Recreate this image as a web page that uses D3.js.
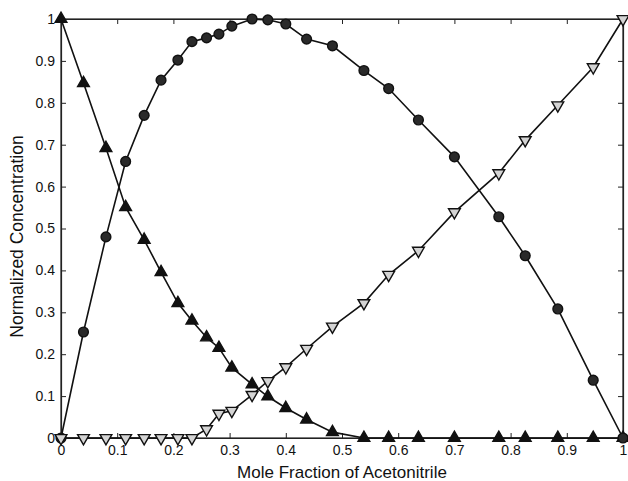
<!DOCTYPE html>
<html>
<head>
<meta charset="utf-8">
<script src="https://cdn.jsdelivr.net/npm/d3@7"></script>
<style>
  body { margin: 0; background: #fff; }
  text { font-family: "Liberation Sans", Arial, sans-serif; fill: #111; }
</style>
</head>
<body>
<svg id="chart"></svg>
<script>
// mole fraction of acetonitrile (shared by all three series)
let moleFraction = [0, 0.04, 0.08, 0.115, 0.148, 0.178, 0.208, 0.233, 0.259, 0.281, 0.304, 0.340,
    0.368, 0.400, 0.437, 0.483, 0.539, 0.583, 0.636, 0.700, 0.779, 0.826, 0.884, 0.947, 1.0];
let speciesA = [1, 0.847, 0.692, 0.551, 0.473, 0.396, 0.322, 0.280, 0.240, 0.215, 0.168, 0.128,
    0.099, 0.0715, 0.044, 0.014, 0, 0, 0, 0, 0, 0, 0, 0, 0];
let speciesB = [0, 0.253, 0.48, 0.66, 0.77, 0.854, 0.902, 0.946, 0.955, 0.964, 0.983, 1.0,
    0.998, 0.988, 0.952, 0.936, 0.877, 0.834, 0.759, 0.671, 0.528, 0.435, 0.308, 0.138, 0];
let speciesC = [0, 0, 0, 0, 0, 0, 0, 0, 0.021, 0.058, 0.065, 0.103,
    0.136, 0.169, 0.213, 0.266, 0.322, 0.3895, 0.447, 0.539, 0.632, 0.711, 0.794, 0.885, 1.0];
let tickValues = [0, 0.1, 0.2, 0.3, 0.4, 0.5, 0.6, 0.7, 0.8, 0.9, 1];

function drawChart() {
    let width = 628, height = 481;
    let margin = {left: 61, right: 5, top: 19, bottom: 43};
    let svg = d3.select("#chart").attr("width", width).attr("height", height);

    let x = d3.scaleLinear().domain([0, 1]).range([margin.left, width - margin.right]);
    let y = d3.scaleLinear().domain([0, 1]).range([height - margin.bottom, margin.top]);
    let fmt = d => d === 0 ? "0" : d === 1 ? "1" : d3.format(".1f")(d);

    // frame
    svg.append("rect")
        .attr("x", x(0)).attr("y", y(1))
        .attr("width", x(1) - x(0)).attr("height", y(0) - y(1))
        .attr("fill", "none").attr("stroke", "#222").attr("stroke-width", 1.2);

    let bottom = svg.append("g").attr("transform", "translate(0," + y(0) + ")")
        .call(d3.axisBottom(x).tickValues(tickValues).tickFormat(fmt).tickSizeInner(-5).tickSizeOuter(0).tickPadding(7));
    let top = svg.append("g").attr("transform", "translate(0," + y(1) + ")")
        .call(d3.axisTop(x).tickValues(tickValues).tickFormat("").tickSizeInner(-5).tickSizeOuter(0));
    let left = svg.append("g").attr("transform", "translate(" + x(0) + ",0)")
        .call(d3.axisLeft(y).tickValues(tickValues).tickFormat(fmt).tickSizeInner(-5).tickSizeOuter(0).tickPadding(6));
    let right = svg.append("g").attr("transform", "translate(" + x(1) + ",0)")
        .call(d3.axisRight(y).tickValues(tickValues).tickFormat("").tickSizeInner(-5).tickSizeOuter(0));
    [bottom, top, left, right].forEach(function (g) {
        g.select(".domain").attr("stroke", "#222").attr("stroke-width", 1.2);
        g.selectAll(".tick line").attr("stroke", "#222");
        g.selectAll("text").style("font-size", "14px").attr("fill", "#111");
    });

    let line = d3.line().x(d => x(d[0])).y(d => y(d[1]));
    let series = [
        {vals: speciesA, symbol: d3.symbolTriangle, fill: "#111", rotate: 0, size: 60},
        {vals: speciesB, symbol: d3.symbolCircle, fill: "#2a2a2a", rotate: 0, size: 75},
        {vals: speciesC, symbol: d3.symbolTriangle, fill: "#d4d4d4", rotate: 180, size: 60}
    ];
    series.forEach(function (s) {
        let pts = moleFraction.map((m, i) => [m, s.vals[i]]);
        svg.append("path").datum(pts)
            .attr("d", line)
            .attr("fill", "none").attr("stroke", "#111").attr("stroke-width", 1.6);
        svg.append("g").selectAll("path").data(pts)
            .enter().append("path")
            .attr("d", d3.symbol().type(s.symbol).size(s.size))
            .attr("transform", d => "translate(" + x(d[0]) + "," + y(d[1]) + ") rotate(" + s.rotate + ")")
            .attr("fill", s.fill).attr("stroke", "#111").attr("stroke-width", 1.4);
    });

    svg.append("text")
        .attr("x", (x(0) + x(1)) / 2).attr("y", 478)
        .attr("text-anchor", "middle").style("font-size", "17px")
        .text("Mole Fraction of Acetonitrile");
    svg.append("text")
        .attr("transform", "translate(23," + ((y(0) + y(1)) / 2 + 8) + ") rotate(-90)")
        .attr("text-anchor", "middle").style("font-size", "17.5px")
        .text("Normalized Concentration");
}

drawChart();
</script>
</body>
</html>
